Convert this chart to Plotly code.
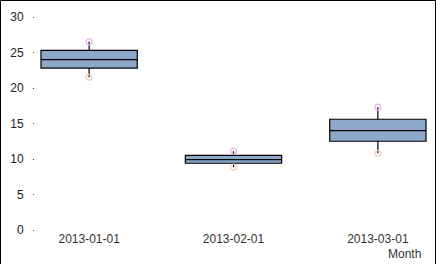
import plotly.graph_objects as go

months = ["2013-01-01", "2013-02-01", "2013-03-01"]
q1 = [22.8, 9.4, 12.5]
median = [24.0, 9.9, 14.0]
q3 = [25.3, 10.5, 15.6]
minimum = [21.5, 8.85, 10.8]
maximum = [26.5, 11.1, 17.3]
y_ticks = [0, 5, 10, 15, 20, 25, 30]

W, H = 436, 264
ML, MR, MT, MB = 35, 4, 17, 34

fig = go.Figure()
fig.add_trace(go.Box(
    x=months, q1=q1, median=median, q3=q3,
    lowerfence=minimum, upperfence=maximum,
    fillcolor="#8DA9CA", line=dict(color="black", width=1.2), whiskerwidth=0,
    width=0.667, boxpoints=False, hoverinfo="skip", showlegend=False,
))
fig.add_trace(go.Scatter(
    x=months, y=maximum, mode="markers",
    marker=dict(symbol="circle-open", size=6, color="#EBAEEB", line=dict(width=1.2)),
    showlegend=False, hoverinfo="skip",
))
fig.add_trace(go.Scatter(
    x=months, y=minimum, mode="markers",
    marker=dict(symbol="circle-open", size=6, color="#F2CDB6", line=dict(width=1.2)),
    showlegend=False, hoverinfo="skip",
))

pw = W - ML - MR
ph = H - MT - MB
fig.add_shape(type="rect", xref="paper", yref="paper",
              x0=(0.5 - ML) / pw, x1=(W - 0.5 - ML) / pw,
              y0=(MB - H + 0.5) / ph + 0, y1=(H - 0.5 - MB) / ph,
              line=dict(color="black", width=1), fillcolor="rgba(0,0,0,0)", layer="above")

fig.add_annotation(text="Month", xref="paper", yref="paper",
                   x=(W - 13 - ML) / pw, y=-(254 - (H - MB)) / ph,
                   xanchor="right", yanchor="middle", showarrow=False,
                   font=dict(size=12, color="#333333"))

fig.update_layout(
    width=W, height=H,
    margin=dict(l=ML, r=MR, t=MT, b=MB),
    paper_bgcolor="white", plot_bgcolor="white",
    font=dict(family="Liberation Sans, Arial", size=12, color="#222222"),
    xaxis=dict(type="category", range=[-0.375, 2.375], showgrid=False, zeroline=False,
               showline=False, ticks="", tickfont=dict(color="#333333")),
    yaxis=dict(range=[0, 30], tickvals=y_ticks, showgrid=False, zeroline=False,
               showline=False, ticks="outside", ticklen=1, tickwidth=1, tickcolor="#444444",
               ticklabelstandoff=7),
)

fig.write_html("out.html")
